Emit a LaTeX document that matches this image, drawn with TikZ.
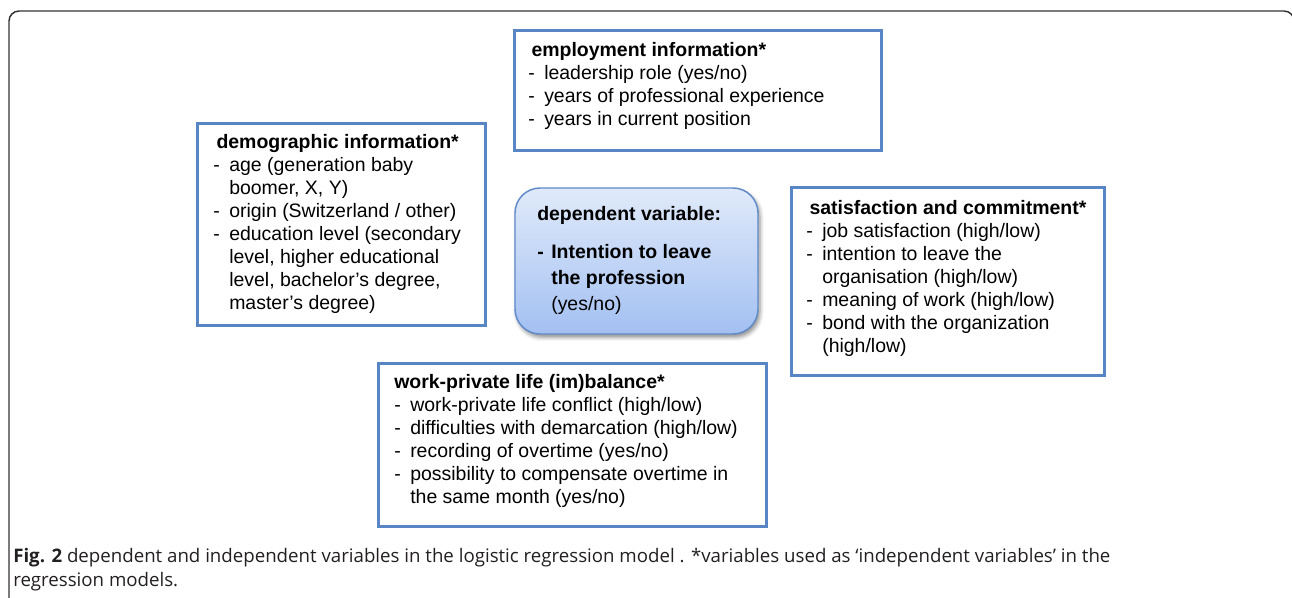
\documentclass[tikz,border=0pt]{standalone}
\usepackage{fontspec}
\setmainfont{Liberation Sans}
\newfontfamily\capfont{Open Sans}
\usetikzlibrary{shadows.blur}
\definecolor{boxblue}{RGB}{88,134,196}
\definecolor{depline}{RGB}{96,138,200}
\definecolor{deptop}{RGB}{224,234,250}
\definecolor{depbot}{RGB}{163,192,242}
\definecolor{framegray}{RGB}{50,50,50}
\definecolor{captext}{RGB}{35,31,32}
\newcommand\itm{\makebox[12pt][l]{-}}
\newcommand\cont{\makebox[12pt][l]{}}
\begin{document}
\begin{tikzpicture}[x=0.75pt,y=-0.75pt,
  varbox/.style={draw=boxblue,line width=2.25pt,anchor=north west,inner sep=0pt,outer sep=0pt},
  boxtext/.style={anchor=north west,inner sep=0pt,align=left,font=\fontsize{14.6pt}{17.25pt}\selectfont},
  depbox/.style={draw=depline,line width=1.1pt,rounded corners=18.75pt,top color=deptop,bottom color=depbot,
    anchor=north west,inner sep=0pt,outer sep=0pt,
    blur shadow={shadow xshift=1.5pt,shadow yshift=-2.5pt,shadow blur radius=3pt,shadow opacity=45}},
  captxt/.style={anchor=base west,inner sep=0pt,font=\capfont\fontsize{14pt}{18pt}\selectfont,text=captext}]
\useasboundingbox (0,0) rectangle (1292,597);
% outer frame
\coordinate (fbl) at (9,620);
\coordinate (ftl) at (9,11);
\coordinate (ftr) at (1294,11);
\coordinate (fbr) at (1294,620);
\draw[framegray,line width=1.1pt,rounded corners=7.5pt] (fbl) -- (ftl) -- (ftr) -- (fbr);

% employment
\node[varbox,minimum width=275.25pt,minimum height=90pt] (emp) at (514.5,30.5) {};
\node[boxtext] (emptext) at (528,42) {\textbf{\,employment information*}\\
\itm leadership role (yes/no)\\
\itm years of professional experience\\
\itm years in current position};

% demographic
\node[varbox,minimum width=216pt,minimum height=151.5pt] (demo) at (197.5,123.5) {};
\node[boxtext] (demotext) at (213,134) {\textbf{\,demographic information*}\\
\itm age (generation baby\\
\cont boomer, X, Y)\\
\itm origin (Switzerland / other)\\
\itm education level (secondary\\
\cont level, higher educational\\
\cont level, bachelor’s degree,\\
\cont master’s degree)};

% dependent
\node[depbox,minimum width=182.25pt,minimum height=109.5pt] (dep) at (515,188) {};
\node[boxtext,font=\fontsize{14.6pt}{19.5pt}\selectfont] (deptext) at (537,206) {\textbf{dependent variable:}\\[9pt]
\textbf{\makebox[10.5pt][l]{-}Intention to leave}\\
\makebox[10.5pt][l]{}\textbf{the profession}\\
\makebox[10.5pt][l]{}(yes/no)};

% satisfaction
\node[varbox,minimum width=234.75pt,minimum height=141pt] (sat) at (791.5,187.5) {};
\node[boxtext] (sattext) at (806,200) {\textbf{\,satisfaction and commitment*}\\
\itm job satisfaction (high/low)\\
\itm intention to leave the\\
\cont organisation (high/low)\\
\itm meaning of work (high/low)\\
\itm bond with the organization\\
\cont (high/low)};

% work-private
\node[varbox,minimum width=291pt,minimum height=122.25pt] (work) at (378.5,363.5) {};
\node[boxtext] (worktext) at (394,374) {\textbf{work-private life (im)balance*}\\
\itm work-private life conflict (high/low)\\
\itm difficulties with demarcation (high/low)\\
\itm recording of overtime (yes/no)\\
\itm possibility to compensate overtime in\\
\cont the same month (yes/no)};

% caption
\node[captxt] (cap1) at (13,562) {\textbf{Fig. 2} dependent and independent variables in the logistic regression model . *variables used as ‘independent variables’ in the};
\node[captxt] (cap2) at (13,586) {regression models.};
\end{tikzpicture}
\end{document}
